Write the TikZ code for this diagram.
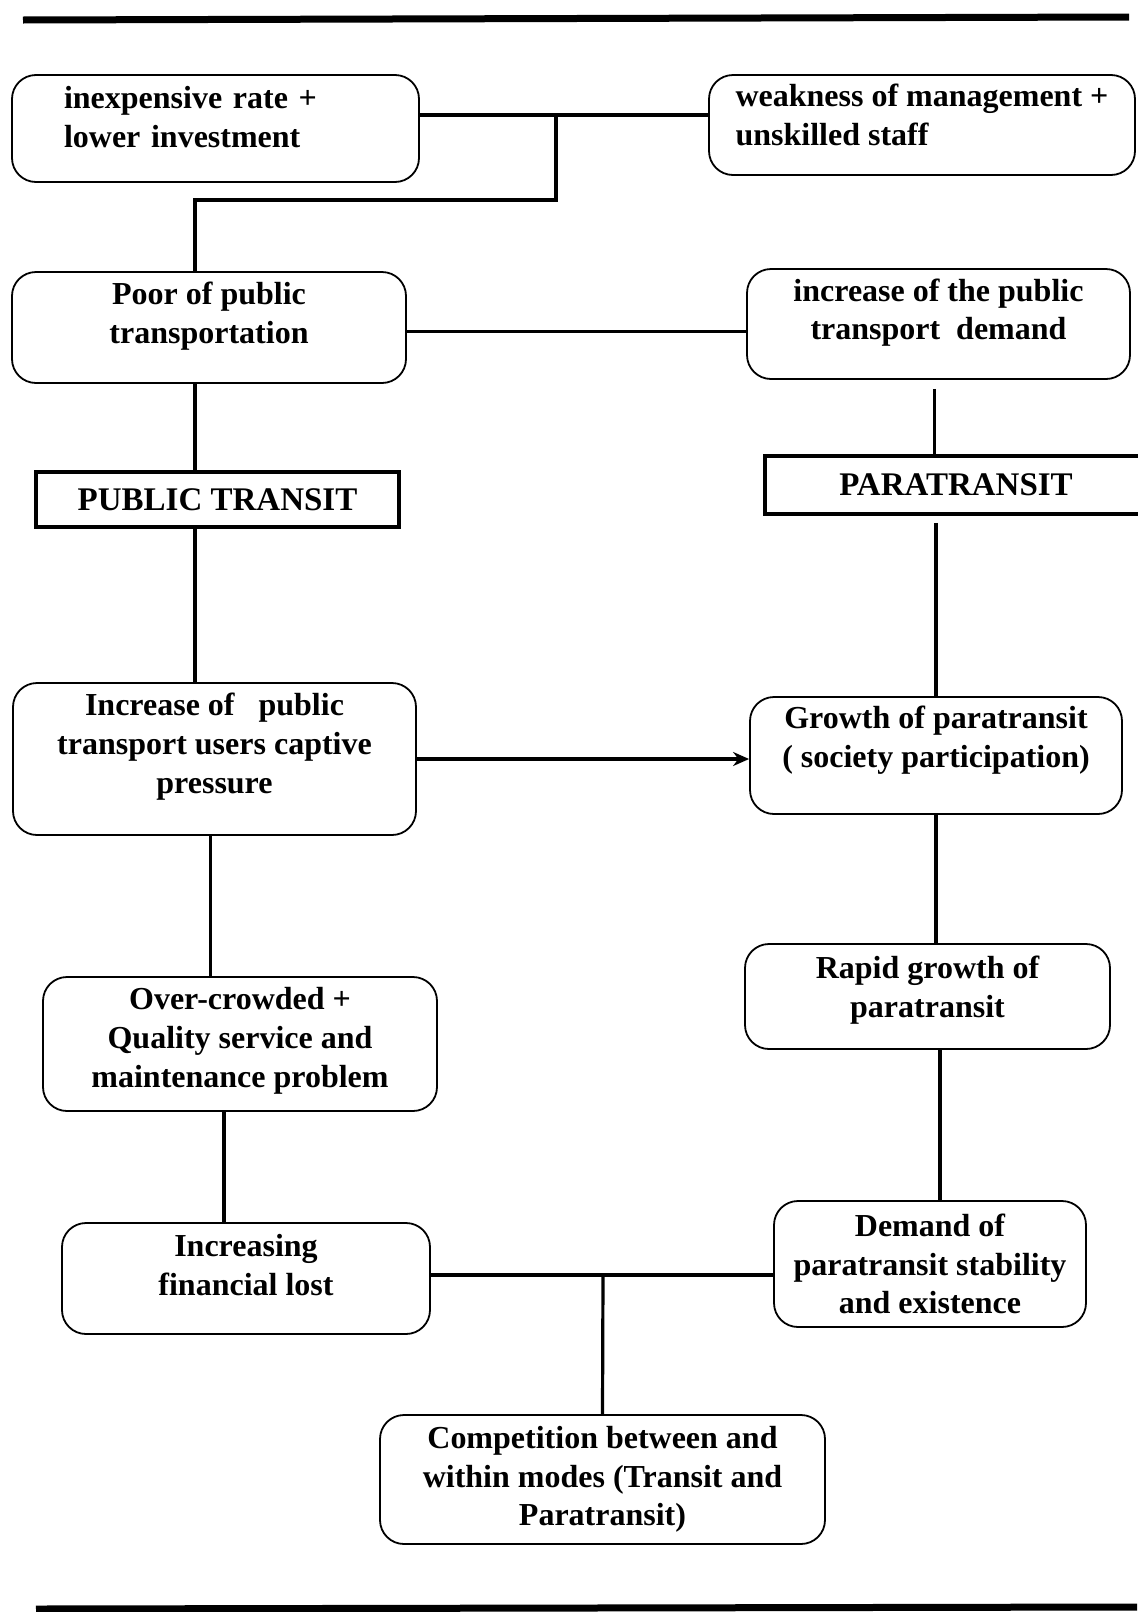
\documentclass[tikz,border=0pt]{standalone}
\usepackage{fontspec}
\setmainfont{Liberation Serif}
\usetikzlibrary{arrows.meta, positioning, calc}
% extra depth below the last line, lifts the text in its box
\newcommand{\padbelow}[1]{\rule[-#1]{0pt}{0pt}}

\begin{document}
\begin{tikzpicture}[x=0.5pt, y=-0.5pt,
    block/.style={rectangle, draw, rounded corners=12pt, line width=0.9pt, align=center, inner sep=0pt, font=\fontsize{16}{19.3}\selectfont\bfseries},
    lblock/.style={block, align=left},
    title/.style={rectangle, draw, line width=1.8pt, inner sep=0pt, font=\fontsize{16.5}{19}\selectfont\bfseries},
    line/.style={line width=1.6pt},
    arrow/.style={line, -{Stealth[length=8pt, width=7pt]}}]

    \useasboundingbox (0,0) rectangle (1137,1612);

    % rules
    \draw[line width=3.5pt] (23,20) -- (1129,17);
    \draw[line width=3.5pt] (36,1609) -- (1137,1607);

    \node [lblock, text width=151.5pt, inner xsep=26pt, minimum height=53.5pt] (cost) at (215.5,128.5) {inexpensive rate +\\lower investment\padbelow{11.5pt}};
    \node [lblock, minimum width=213pt, minimum height=50pt] (staff) at (922,125) {weakness of management +\\unskilled staff\padbelow{10.5pt}};
    \node [block, minimum width=197pt, minimum height=55.5pt] (poor) at (209,327.5) {Poor of public\\transportation\padbelow{14.8pt}};
    \node [block, minimum width=191.5pt, minimum height=55pt] (demand) at (938.5,324) {increase of the public\\transport\ \ demand\padbelow{14.8pt}};
    \node [title, minimum width=181.5pt, minimum height=27.5pt] (pubt) at (217.5,499.5) {PUBLIC TRANSIT};
    \node [title, minimum width=191pt, minimum height=29pt] (para) at (956,485) {PARATRANSIT};
    \node [block, minimum width=201.5pt, minimum height=76pt] (users) at (214.5,759) {Increase of\ \ \ public\\transport users captive\\pressure\padbelow{15.8pt}};
    \node [block, minimum width=186pt, minimum height=58.5pt] (growth) at (936,755.5) {Growth of paratransit\\( society participation)\padbelow{18.9pt}};
    \node [block, minimum width=197pt, minimum height=67pt] (crowd) at (240,1044) {Over-crowded +\\Quality service and\\maintenance problem\padbelow{6.6pt}};
    \node [block, minimum width=182.5pt, minimum height=52.5pt] (rapid) at (927.5,996.5) {Rapid growth of\\paratransit\padbelow{9.7pt}};
    \node [block, minimum width=184pt, minimum height=55.5pt] (lost) at (246,1278.5) {Increasing\\financial lost\padbelow{13.6pt}};
    \node [block, minimum width=156pt, minimum height=63pt] (stable) at (930,1264) {Demand of\\paratransit stability\\and existence};
    \node [block, minimum width=222.5pt, minimum height=64.5pt] (compete) at (602.5,1479.5) {Competition between and\\within modes (Transit and\\Paratransit)};

    \coordinate (split) at (556,115);
    \coordinate (bend) at (556,200);
    \coordinate (turn) at (195,200);
    \coordinate (merge) at (603,1275);

    \draw [line] (cost.east |- split) -- (staff.west |- split);
    \draw [line] (split) -- (bend) -- (turn) -- (poor.north -| turn);
    \draw [line] ([yshift=-2pt]poor.east) -- ([yshift=-2pt]demand.west |- poor.east);
    \draw [line] (poor.south -| turn) -- (pubt.north -| turn);
    \draw [line] (pubt.south -| turn) -- (users.north -| turn);
    \draw [line, shorten <=4.5pt] ([xshift=-2pt]demand.south) -- ([xshift=-2pt]para.north -| demand.south);
    \draw [line, shorten <=3.5pt] (para.south -| growth.north) -- (growth.north);
    \draw [arrow] (users.east) -- (users.east -| growth.west);
    \draw [line] ([xshift=-2pt]users.south) -- ([xshift=-2pt]users.south |- crowd.north);
    \draw [line] (growth.south) -- (growth.south |- rapid.north);
    \draw [line] ([xshift=-8pt]crowd.south) -- ([xshift=-8pt]crowd.south |- lost.north);
    \draw [line] ([xshift=5pt]rapid.south -| stable.north) -- ([xshift=5pt]stable.north);
    \draw [line] (lost.east |- merge) -- (stable.west |- merge);
    \draw [line] (merge) -- (compete.north);
\end{tikzpicture}
\end{document}
